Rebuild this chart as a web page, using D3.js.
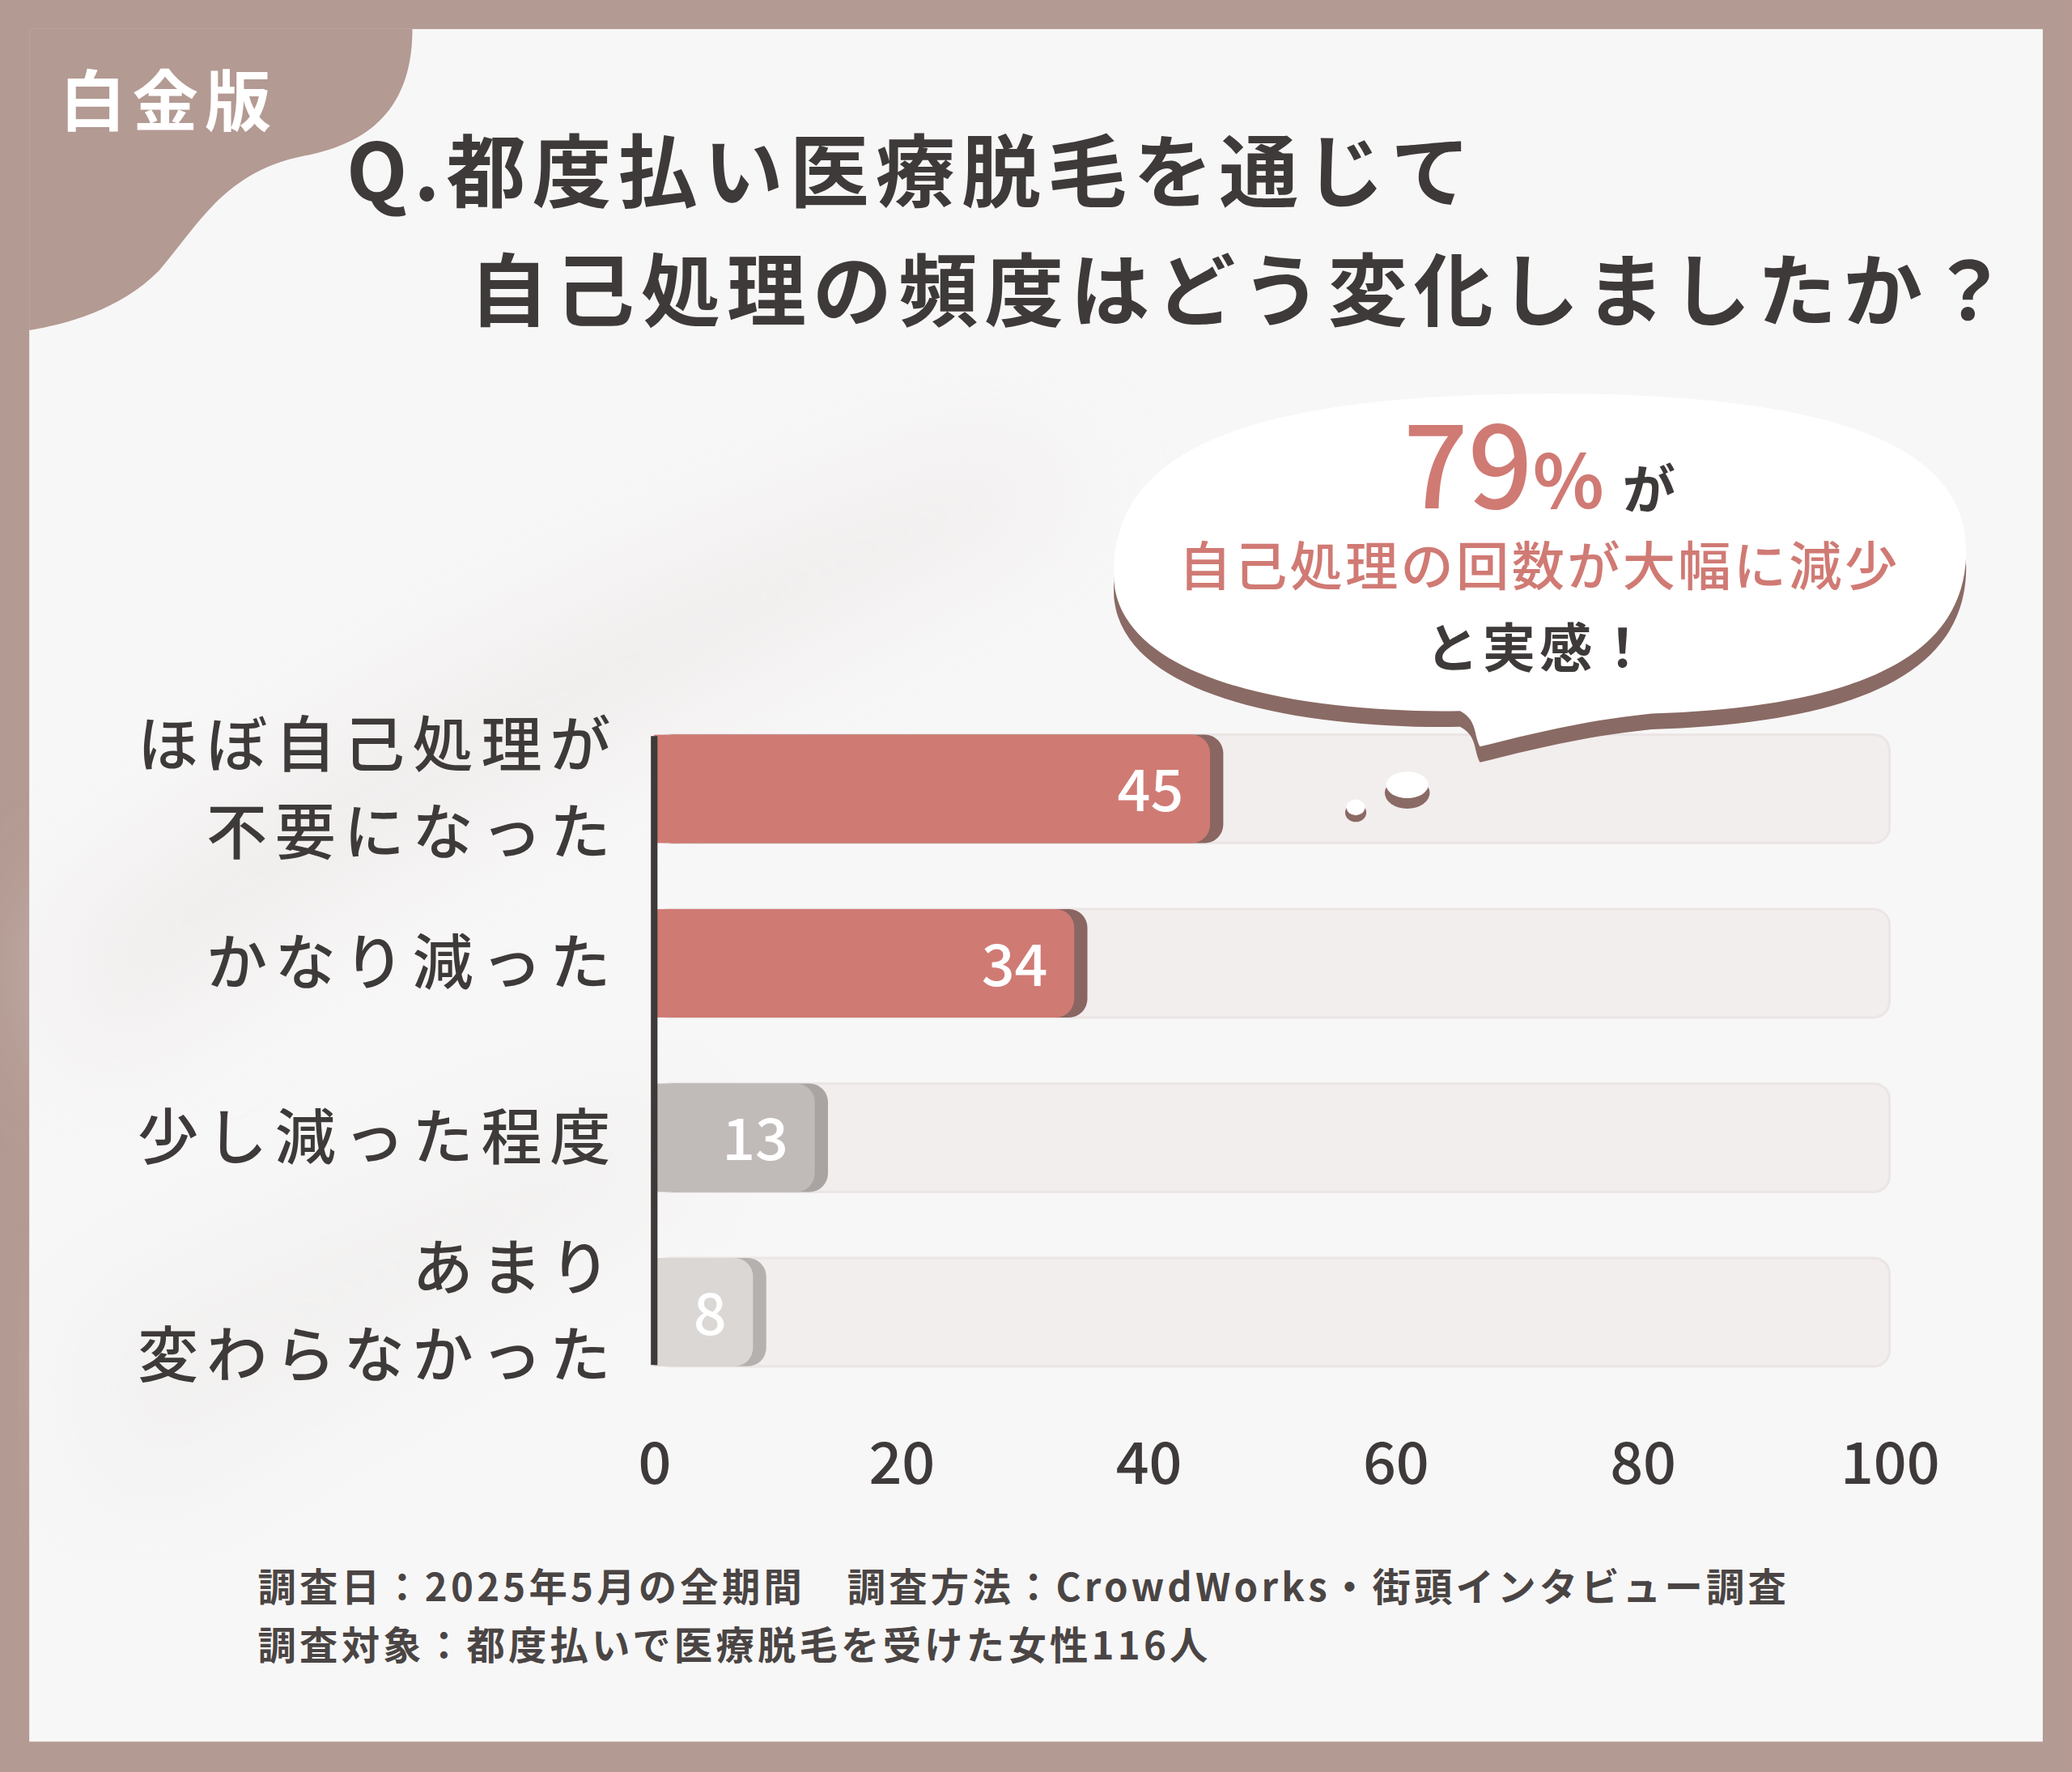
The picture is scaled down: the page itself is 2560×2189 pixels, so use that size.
<!DOCTYPE html>
<html><head><meta charset="utf-8">
<script src="https://cdn.jsdelivr.net/npm/d3@7"></script>
<style>
body{margin:0;background:#b39a92;}
text{font-family:"Noto Sans CJK JP","Noto Sans",sans-serif;}
</style></head>
<body>
<svg id="chart" width="2560" height="2189" viewBox="0 0 1568 1341"></svg>
<script>
const categories = [["ほぼ自己処理が", "不要になった"], ["かなり減った"], ["少し減った程度"], ["あまり", "変わらなかった"]];
const values = [45, 34, 13, 8];
const ticks = [0, 20, 40, 60, 80, 100];
const barColors = ["#d07a74", "#d07a74", "#c0bbb9", "#dad7d5"];
const shadowColors = ["#8a6662", "#8a6662", "#a9a4a2", "#b5b1af"];

const svg = d3.select("#chart");
svg.append("rect").attr("width", 1568).attr("height", 1341).attr("fill", "#b39a92");
svg.append("rect").attr("x", 22).attr("y", 22).attr("width", 1524).attr("height", 1296).attr("fill", "#f8f7f7");

// soft shadow streaks in background
const defs = svg.append("defs");
defs.append("filter").attr("id", "blur").append("feGaussianBlur").attr("stdDeviation", 40);
svg.append("path").attr("d", "M40,700 C300,500 500,420 760,330 L820,380 C560,520 300,650 60,820 Z")
  .attr("fill", "#ebe8e7").attr("filter", "url(#blur)").attr("opacity", 0.6);
svg.append("path").attr("d", "M60,1000 C260,900 420,850 500,820 L520,900 C400,960 220,1080 80,1150 Z")
  .attr("fill", "#ecebea").attr("filter", "url(#blur)").attr("opacity", 0.5);

// corner blob
svg.append("path")
  .attr("d", "M22,22 L312,22 C312,90 270,110 230,118 C170,130 150,170 120,205 C90,235 50,245 22,250 Z")
  .attr("fill", "#b39a92");
svg.append("text").attr("x", 45).attr("y", 95).attr("fill", "#fff").attr("font-size", 50).attr("font-weight", 700)
  .attr("letter-spacing", 5).text("白金版");

// title
svg.append("text").attr("x", 262).attr("y", 152).attr("fill", "#3e3a39").attr("font-size", 60).attr("font-weight", 700)
  .attr("letter-spacing", 5).text("Q.都度払い医療脱毛を通じて");
svg.append("text").attr("x", 355).attr("y", 242).attr("fill", "#3e3a39").attr("font-size", 60).attr("font-weight", 700)
  .attr("letter-spacing", 5).text("自己処理の頻度はどう変化しましたか？");

const x = d3.scaleLinear().domain([0, 100]).range([495, 1430]);
const bh = 82;
const yc = i => 597 + i * 132;

// tracks
svg.selectAll(".track").data(values).join("rect")
  .attr("x", x(0)).attr("y", (d, i) => yc(i) - bh / 2).attr("width", x(100) - x(0)).attr("height", bh)
  .attr("rx", 12).attr("fill", "#f2eeed").attr("stroke", "#ebe6e5").attr("stroke-width", 2);

// bars with shadow edge
svg.selectAll(".shadow").data(values).join("rect")
  .attr("x", x(0)).attr("y", (d, i) => yc(i) - bh / 2).attr("width", d => x(d) - x(0) + 10).attr("height", bh)
  .attr("rx", 14).attr("fill", (d, i) => shadowColors[i]);
svg.selectAll(".bar").data(values).join("rect")
  .attr("x", x(0)).attr("y", (d, i) => yc(i) - bh / 2).attr("width", d => x(d) - x(0)).attr("height", bh)
  .attr("rx", 14).attr("fill", (d, i) => barColors[i]);
svg.selectAll(".barsq").data(values).join("rect")
  .attr("x", x(0)).attr("y", (d, i) => yc(i) - bh / 2).attr("width", 20).attr("height", bh)
  .attr("fill", (d, i) => barColors[i]);
svg.selectAll(".val").data(values).join("text")
  .attr("x", d => x(d) - 20).attr("y", (d, i) => yc(i) + 17).attr("text-anchor", "end")
  .attr("fill", "#fff").attr("font-size", 44).attr("font-weight", 500).text(d => d);

// axis line
svg.append("line").attr("x1", x(0)).attr("x2", x(0)).attr("y1", 557).attr("y2", 1033)
  .attr("stroke", "#3e3a39").attr("stroke-width", 5);

// ticks
const ax = svg.append("g").attr("transform", "translate(0,1088)")
  .call(d3.axisBottom(x).tickValues(ticks).tickSize(0).tickPadding(0));
ax.select(".domain").remove();
ax.selectAll("text").attr("font-size", 44).attr("font-weight", 500).attr("fill", "#3e3a39")
  .attr("font-family", "'Noto Sans CJK JP', sans-serif").attr("dy", "0.8em");

// category labels
categories.forEach((lines, i) => {
  const t = svg.append("text").attr("text-anchor", "end").attr("fill", "#3e3a39")
    .attr("font-size", 46).attr("font-weight", 500).attr("letter-spacing", 6);
  const n = lines.length;
  lines.forEach((l, j) => {
    t.append("tspan").attr("x", 468).attr("y", yc(i) + 16 + (j - (n - 1) / 2) * 66).text(l);
  });
});

// speech bubble
const bub = "M1120,565 C1115,555 1118,545 1105,538 C1000,540 850,520 843,440 C840,360 900,300 1160,298 C1420,296 1490,350 1488,420 C1486,500 1400,535 1250,540 C1200,545 1160,555 1120,565 Z";
svg.append("path").attr("d", bub).attr("fill", "#8a6a64").attr("transform", "translate(0,12)");
svg.append("path").attr("d", bub).attr("fill", "#fff");
svg.append("ellipse").attr("cx", 1065).attr("cy", 600).attr("rx", 17).attr("ry", 12).attr("fill", "#8a6a64");
svg.append("ellipse").attr("cx", 1065).attr("cy", 594).attr("rx", 16).attr("ry", 10).attr("fill", "#fff");
svg.append("ellipse").attr("cx", 1026).attr("cy", 615).attr("rx", 8).attr("ry", 7).attr("fill", "#8a6a64");
svg.append("ellipse").attr("cx", 1026).attr("cy", 611).attr("rx", 7).attr("ry", 6).attr("fill", "#fff");

const h = svg.append("text").attr("x", 1165).attr("y", 385).attr("text-anchor", "middle");
h.append("tspan").attr("fill", "#d07a74").attr("font-size", 86).attr("font-weight", 500).text("79");
h.append("tspan").attr("fill", "#d07a74").attr("font-size", 56).attr("font-weight", 700).text("%");
h.append("tspan").attr("fill", "#3e3a39").attr("font-size", 40).attr("font-weight", 700).attr("dx", 14).text("が");
svg.append("text").attr("x", 1165).attr("y", 443).attr("text-anchor", "middle").attr("fill", "#d07a74")
  .attr("font-size", 40).attr("font-weight", 500).attr("letter-spacing", 2).text("自己処理の回数が大幅に減少");
svg.append("text").attr("x", 1165).attr("y", 505).attr("text-anchor", "middle").attr("fill", "#3e3a39")
  .attr("font-size", 40).attr("font-weight", 700).attr("letter-spacing", 3).text("と実感！");

// footer
svg.append("text").attr("x", 195).attr("y", 1212).attr("fill", "#4a4544").attr("font-size", 29).attr("font-weight", 700)
  .attr("letter-spacing", 2.6).text("調査日：2025年5月の全期間　調査方法：CrowdWorks・街頭インタビュー調査");
svg.append("text").attr("x", 195).attr("y", 1256).attr("fill", "#4a4544").attr("font-size", 29).attr("font-weight", 700)
  .attr("letter-spacing", 2.6).text("調査対象：都度払いで医療脱毛を受けた女性116人");
</script>
</body></html>
